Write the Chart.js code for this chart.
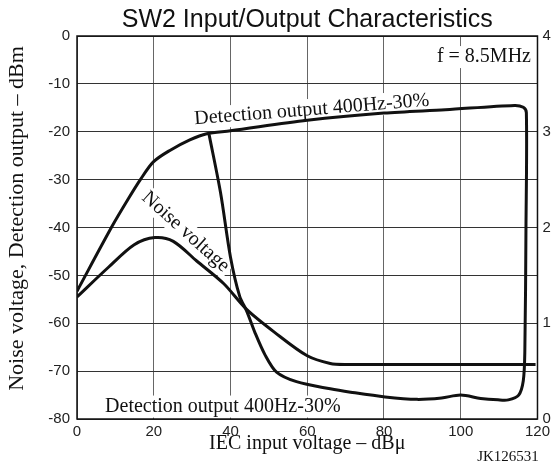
<!DOCTYPE html>
<html>
<head>
<meta charset="utf-8">
<script src="https://cdn.jsdelivr.net/npm/chart.js@4.4.0/dist/chart.umd.min.js"></script>
<style>
  html, body { margin: 0; padding: 0; background: #fff; }
  #wrap { width: 554px; height: 465px; position: relative; }
</style>
</head>
<body>
<div id="wrap"><canvas id="myChart"></canvas></div>
<script>
// detection output 400Hz-30% (one closed path: rising branch, right drop, low branch back)
const det_x = [0, 9.1, 13.3, 16.6, 19.9, 24.2, 29.4, 33.8, 40, 60, 80, 96, 114, 116.3, 117.1, 117.0, 116.7, 116.3, 115.1, 112.4, 109.7, 105.2, 100, 95, 88.6, 80.3, 71.3, 66, 57.2, 52, 49, 46.4, 44.2, 42.4, 40, 37.4, 34.4];
const det_y = [-53.3, -39.8, -34.1, -29.9, -26.3, -23.9, -21.7, -20.4, -19.8, -17.6, -16.1, -15.4, -14.5, -14.9, -16, -40, -66, -72, -75, -76, -76, -75.7, -75, -75.6, -75.9, -75.4, -74.4, -73.7, -72.2, -70.2, -66.6, -62, -57.4, -54.4, -46.2, -32.7, -20.5];

// noise voltage
const noise_x = [0, 8.2, 14.9, 20.3, 25.1, 31.2, 38.2, 44.2, 51.5, 60, 66, 70, 119.5];
const noise_y = [-54.5, -48.3, -43.6, -42.1, -42.9, -47, -51.7, -57.1, -61.9, -66.8, -68.4, -68.6, -68.6];

// axis ranges
const x_range = [0, 120, 20];
const left_range = [-80, 0, 10];
const right_range = [0, 4, 1];

const SERIF = "'Liberation Serif', 'Times New Roman', serif";
const SANS = "'Liberation Sans', Arial, sans-serif";

function toPoints(xs, ys) {
  let pts = [];
  for (let i = 0; i < xs.length; i++) {
    pts.push({ x: xs[i], y: ys[i] });
  }
  return pts;
}

// text written inside the plot, anchored in data units
const notes = [
  { text: "Detection output 400Hz-30%", x: 61.2, y: -15.4, angle: -4.5, align: "center" },
  { text: "Detection output 400Hz-30%", x: 38.0, y: -77.4, angle: 0, align: "center" },
  { text: "Noise voltage", x: 28.3, y: -40.9, angle: 42, align: "center" },
  { text: "f = 8.5MHz", x: 118.3, y: -4.4, angle: 0, align: "right" },
];

const notesPlugin = {
  id: "notes",
  beforeDatasetsDraw(chart) {
    const { ctx, chartArea, scales } = chart;
    ctx.save();
    ctx.font = "20px " + SERIF;
    notes.forEach((n) => {
      const px = scales.x.getPixelForValue(n.x);
      const py = scales.y.getPixelForValue(n.y);
      const w = ctx.measureText(n.text).width;
      ctx.save();
      ctx.translate(px, py);
      ctx.rotate((n.angle * Math.PI) / 180);
      let x0 = n.align === "right" ? -w : -w / 2;
      ctx.fillStyle = "#fff";
      ctx.fillRect(x0 - 3, -11, w + 6, 22);
      ctx.fillStyle = "#111";
      ctx.textAlign = n.align;
      ctx.textBaseline = "middle";
      ctx.fillText(n.text, 0, 0);
      ctx.restore();
    });
    // frame round the plot
    ctx.strokeStyle = "#111";
    ctx.lineWidth = 1.5;
    ctx.strokeRect(chartArea.left, chartArea.top, chartArea.right - chartArea.left, chartArea.bottom - chartArea.top);
    ctx.restore();
  },
  afterDraw(chart) {
    const ctx = chart.ctx;
    ctx.save();
    ctx.fillStyle = "#111";
    ctx.textAlign = "center";
    ctx.textBaseline = "middle";
    // left axis title sits a little above the middle of the plot
    ctx.font = "22px " + SERIF;
    ctx.translate(17.5, 218.5);
    ctx.rotate(-Math.PI / 2);
    ctx.fillText("Noise voltage, Detection output – dBm", 0, 0);
    ctx.restore();

    ctx.save();
    ctx.fillStyle = "#111";
    ctx.textAlign = "center";
    ctx.textBaseline = "middle";
    ctx.font = "15px " + SERIF;
    ctx.fillText("JK126531", 508, 457.5);
    ctx.restore();
  },
};

Chart.defaults.color = "#111";

const ctx = document.getElementById("myChart").getContext("2d");

const lineStyle = {
  showLine: true,
  borderColor: "#111",
  borderWidth: 3,
  pointRadius: 0,
  tension: 0.3,
  fill: false,
};

var myChart = new Chart(ctx, {
  type: "scatter",
  data: {
    datasets: [
      Object.assign({ label: "Detection output 400Hz-30%", data: toPoints(det_x, det_y) }, lineStyle),
      Object.assign({ label: "Noise voltage", data: toPoints(noise_x, noise_y) }, lineStyle),
    ],
  },
  options: {
    responsive: true,
    maintainAspectRatio: false,
    animation: false,
    layout: { padding: 0 },
    plugins: {
      legend: { display: false },
      tooltip: { enabled: false },
      title: {
        display: true,
        fullSize: false,
        text: "SW2 Input/Output Characteristics",
        color: "#111",
        font: { family: SANS, size: 25, weight: "normal" },
        padding: { top: 5.5, bottom: 0.5 },
      },
    },
    scales: {
      x: {
        type: "linear",
        min: x_range[0],
        max: x_range[1],
        ticks: { stepSize: x_range[2], font: { family: SANS, size: 15 }, color: "#222", padding: 4 },
        grid: { color: "#666", drawTicks: false },
        border: { display: false },
        title: {
          display: true,
          text: "IEC input voltage – dBμ",
          color: "#111",
          font: { family: SERIF, size: 20 },
          padding: { top: 0, bottom: 9 },
        },
        afterFit(scale) {
          scale.height = 46;
        },
      },
      y: {
        type: "linear",
        position: "left",
        min: left_range[0],
        max: left_range[1],
        ticks: { stepSize: left_range[2], font: { family: SANS, size: 15 }, color: "#222", padding: 7 },
        grid: { color: "#333", drawTicks: false },
        border: { display: false },
        afterFit(scale) {
          scale.width = 77;
        },
      },
      y2: {
        type: "linear",
        position: "right",
        min: right_range[0],
        max: right_range[1],
        ticks: { stepSize: right_range[2], font: { family: SANS, size: 15 }, color: "#222", padding: 5 },
        grid: { display: false, drawTicks: false },
        border: { display: false },
        afterFit(scale) {
          scale.width = 15;
        },
      },
    },
  },
  plugins: [notesPlugin],
});
</script>
</body>
</html>
